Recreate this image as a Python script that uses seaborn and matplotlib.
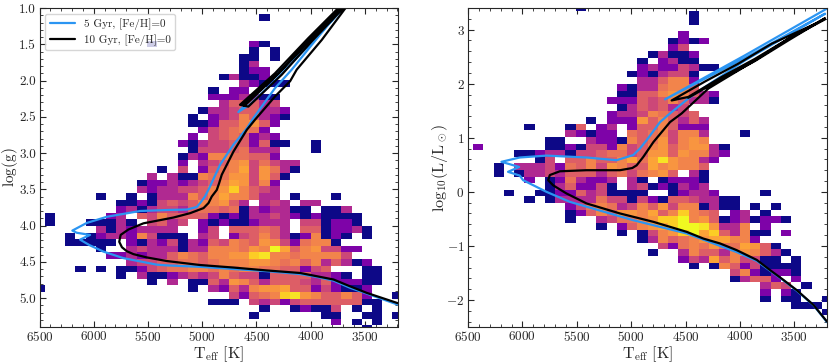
import numpy as np
import pandas as pd
import seaborn as sns
import matplotlib.pyplot as plt
from matplotlib.ticker import MultipleLocator

# star counts per bin, one entry per row of the histogram: (first column, counts)
# '.' is an empty bin, a/b/c are 12/14/16
logg_rows = [
    (0, ""), (22, "1"), (0, ""), (0, ""), (0, ""),
    (11, "1.........21"), (21, "1.1"), (20, "11.1"), (20, "13"), (20, "122"),
    (18, "13112"), (20, "32111"), (17, "1.22"), (17, "2223311"), (18, "355534"),
    (16, "133455332"), (15, "1.23475321"), (15, "112557852"), (16, "2456762"), (15, "2.4565232"),
    (14, "21344552511..1"), (15, "144456333...1"), (14, "1327766552"), (14, "2.3457846433"),
    (12, "1.4.2567948631"), (11, "3.311766884851"), (10, "12232345798472"), (10, "323344578a7543"),
    (6, "1..1.1333757977533.1...1"), (8, "1121454577853.343.33"), (8, "2313443566561323311.113"),
    (1, "1.....23.5475555212133432121111"), (1, "1...11131.4534.212112333.441221"),
    (6, "31323333..24.555653.5512231"), (3, "1.1233274111.34.245753127121.1"),
    (3, "11111.213241325476587426771"), (6, "1..34333133777687c95784422"),
    (7, "22323357657788ab77677774"), (9, "344556656777887675735312"),
    (4, "1.1.112456677676776655245...11"), (8, "1.311234347544155553321.11"),
    (11, "1.3.1153875355543522211"), (0, "1..............1.3253788955242112"),
    (19, "42567ab8755752..1"), (17, "111.4342455555511"), (22, "1..12114.1.1"),
    (21, "1......11..11.1"), (29, "2.1.1"), (32, "1"),
]
logl_rows = [
    (11, "1"), (22, "1"), (22, "1"), (0, ""), (21, "2"),
    (20, "1212"), (20, "24"), (18, "13112"), (17, "1.2311"), (17, "23224311"),
    (16, "1213441"), (17, "335772"), (15, "21336775"), (15, "1155787532"), (14, "22254575331"),
    (15, "1354534"), (14, "233476545"), (12, "1.2228575353"), (6, "1...15.23.25575222"),
    (10, "32122.65674773...1"), (8, "11..322175684787"), (1, "2......112144274578578831"),
    (5, "112331445664588587732"), (7, "14.557557969b87732"), (3, "1.3334265748755978775"),
    (3, "1.1334355535646785.31"), (6, "2.1263223.31.12221"), (8, "1352241.34121323"),
    (4, "1..11225341111..12332....1"), (6, "1.1333364414215543311"), (10, "24676347584771311.1.1"),
    (10, "12575887957a765.23.1"), (10, "1..346678aac7851231221"), (13, "1.25789accb8337.2"),
    (15, "1.1478ac9a53711.2"), (17, "137567899772"), (19, "426768669851"),
    (18, "1..37553787531"), (21, "2439574411.1"), (22, "1.175241111"), (26, "4721221"),
    (26, "13552.2"), (29, "354.1"), (29, "2.21"), (29, "1.11..1"), (32, "111"), (35, "1"),
]
COUNT = {"a": 12, "b": 14, "c": 16}
MAX_COUNT = 16

# isochrones: 5 Gyr and 10 Gyr, [Fe/H]=0
iso5_logg_teff = [3200, 3482, 3636, 3790, 3943, 4097, 4405, 4712, 5020, 5327, 5419, 5727, 5911, 6040, 6126, 6034,
                  6157, 6197, 6065, 5880, 5573, 5300, 5142, 5050, 5019, 4975, 4942, 4835, 4712, 4589, 4529, 4329,
                  4175, 3991, 3714, 3660, 3991, 4421, 4667, 4560, 4329, 4020, 3720, 3660]
iso5_logg = [5.09, 4.94, 4.86, 4.76, 4.71, 4.67, 4.63, 4.60, 4.57, 4.55, 4.54, 4.45, 4.36, 4.27, 4.195, 4.13,
             4.10, 4.07, 3.965, 3.88, 3.80, 3.785, 3.78, 3.745, 3.69, 3.60, 3.505, 3.16, 2.885, 2.66, 2.52, 2.105,
             1.85, 1.51, 1.0, 0.93, 1.47, 2.04, 2.435, 2.33, 2.0, 1.52, 1.04, 0.93]
iso10_logg_teff = [3200, 3482, 3636, 3790, 3943, 4097, 4405, 4712, 5020, 5327, 5512, 5634, 5695, 5740, 5765, 5752,
                   5680, 5542, 5420, 5265, 5112, 4988, 4942, 4912, 4866, 4845, 4820, 4712, 4589, 4513, 4329, 4190,
                   4129, 3898, 3684, 3630, 3745, 4022, 4329, 4652, 4575, 4267, 3991, 3714, 3640, 3730, 4005, 4300,
                   4612, 4620, 4298, 4006, 3730]
iso10_logg = [5.07, 4.93, 4.84, 4.745, 4.70, 4.655, 4.62, 4.58, 4.545, 4.49, 4.44, 4.395, 4.355, 4.30, 4.225, 4.13,
              4.055, 3.97, 3.935, 3.89, 3.83, 3.76, 3.69, 3.60, 3.51, 3.42, 3.30, 2.98, 2.68, 2.54, 2.22, 2.01,
              1.85, 1.44, 1.01, 0.92, 1.0, 1.415, 1.90, 2.335, 2.36, 1.92, 1.46, 1.025, 0.93, 1.01, 1.44, 1.91,
              2.35, 2.33, 1.90, 1.43, 1.01]
iso5_logl_teff = [3200, 3323, 3477, 3600, 3722, 3845, 4029, 4490, 4981, 5564, 5779, 5993, 6024, 6132, 6030,
                  6132, 6193, 6024, 5779, 5410, 5134, 4981, 4920, 4858, 4735, 4643, 4475, 4291, 3954, 3218,
                  3954, 4689, 3954, 3200]
iso5_logl = [-2.41, -2.10, -1.83, -1.64, -1.46, -1.28, -1.115, -0.77, -0.525, -0.185, 0.0, 0.215, 0.30, 0.37, 0.46,
             0.52, 0.555, 0.635, 0.67, 0.635, 0.585, 0.68, 0.80, 0.955, 1.29, 1.45, 1.725, 1.98, 2.43, 3.295,
             2.475, 1.71, 2.525, 3.39]
iso10_logl_teff = [3200, 3323, 3477, 3600, 3722, 3845, 4029, 4183, 4336, 4490, 4796, 5103, 5410, 5595, 5717,
                   5763, 5748, 5656, 5410, 5103, 4990, 4950, 4889, 4796, 4643, 4536, 4291, 4168, 3862, 3556, 3218,
                   3708, 4016, 4322, 4628, 4475, 4168, 3862, 3556, 3218, 3556, 3862, 4168, 4475]
iso10_logl = [-2.40, -2.095, -1.82, -1.63, -1.45, -1.26, -1.08, -0.955, -0.865, -0.74, -0.555, -0.40, -0.215, -0.03, 0.12,
              0.215, 0.31, 0.38, 0.40, 0.40, 0.44, 0.49, 0.645, 0.92, 1.29, 1.45, 1.91, 2.06, 2.43, 2.83, 3.19,
              2.74, 2.37, 2.04, 1.69, 1.755, 2.125, 2.46, 2.83, 3.21, 2.80, 2.42, 2.09, 1.74]

# histogram bins, rows run from the top of the panel down
T_START, T_STEP, N_T = 6547.0, 94.3, 36
G_START, G_STEP = 0.9963, 0.09122
L_START, L_STEP = 3.461, -0.1223
BLUE = "#2b95f2"

sns.set_style("ticks")
plt.rcParams["font.family"] = "cmr10"
plt.rcParams["axes.formatter.use_mathtext"] = True
plt.rcParams["mathtext.fontset"] = "cm"
plt.rcParams["axes.unicode_minus"] = False


def hist_table(rows, y_start, y_step):
    out = []
    for r, (first, counts) in enumerate(rows):
        for i, c in enumerate(counts):
            if c == ".":
                continue
            n = COUNT.get(c) or int(c)
            out.append({
                "teff": T_START - T_STEP * (first + i + 0.5),
                "y": y_start + y_step * (r + 0.5),
                # log colour scale, kept just above zero so single stars still show
                "w": 1e-4 + np.log(n) / np.log(MAX_COUNT),
            })
    return pd.DataFrame(out)


def draw_panel(ax, rows, y_start, y_step, teff5, y5, teff10, y10):
    df = hist_table(rows, y_start, y_step)
    x_edges = np.sort(T_START - T_STEP * np.arange(N_T + 1))
    y_edges = np.sort(y_start + y_step * np.arange(len(rows) + 1))
    sns.histplot(data=df, x="teff", y="y", weights="w", bins=(x_edges, y_edges),
                 cmap="plasma", vmin=0, vmax=1, ax=ax)
    sns.lineplot(x=teff5, y=y5, sort=False, estimator=None, color=BLUE, lw=1.6,
                 label="5 Gyr, [Fe/H]=0", ax=ax)
    sns.lineplot(x=teff10, y=y10, sort=False, estimator=None, color="black", lw=1.6,
                 label="10 Gyr, [Fe/H]=0", ax=ax)
    ax.set_xlim(6500, 3200)
    ax.xaxis.set_major_locator(MultipleLocator(500))
    ax.xaxis.set_minor_locator(MultipleLocator(100))
    ax.tick_params(which="major", direction="in", top=True, right=True, length=4, width=0.8, labelsize=9.5, pad=2.5)
    ax.tick_params(which="minor", direction="in", top=True, right=True, length=2, width=0.6)
    ax.set_xlabel(r"$\mathrm{T_{eff}\ [K]}$", fontsize=11.5)
    ax.xaxis.set_label_coords(0.5, -0.053)
    for s in ax.spines.values():
        s.set_linewidth(0.8)
        s.set_visible(True)


fig = plt.figure(figsize=(8.31, 3.63), dpi=100)
ax1 = fig.add_axes([39.5 / 831, 1 - 327 / 363, 358 / 831, 319 / 363])
ax2 = fig.add_axes([468 / 831, 1 - 327 / 363, 359 / 831, 319 / 363])

draw_panel(ax1, logg_rows, G_START, G_STEP, iso5_logg_teff, iso5_logg, iso10_logg_teff, iso10_logg)
ax1.set_ylim(5.4, 1.0)
ax1.yaxis.set_major_locator(MultipleLocator(0.5))
ax1.yaxis.set_minor_locator(MultipleLocator(0.1))
ax1.yaxis.set_major_formatter(lambda v, p: f"{v:.1f}")
ax1.set_ylabel(r"$\mathrm{log(g)}$", fontsize=11)
ax1.yaxis.set_label_coords(-0.054, 0.5)
ax1.legend(loc="upper left", fontsize=8, frameon=True, framealpha=0.8, fancybox=True,
           borderaxespad=0.5, handlelength=2.3, handletextpad=0.8, labelspacing=0.4)

draw_panel(ax2, logl_rows, L_START, L_STEP, iso5_logl_teff, iso5_logl, iso10_logl_teff, iso10_logl)
ax2.set_ylim(-2.5, 3.4)
ax2.yaxis.set_minor_locator(MultipleLocator(0.2))
ax2.set_yticks([-2, -1, 0, 1, 2, 3], [r"$-2$", r"$-1$", r"$0$", r"$1$", r"$2$", r"$3$"])
ax2.set_ylabel(r"$\mathrm{log_{10}(L/L_\odot)}$", fontsize=11.5)
ax2.yaxis.set_label_coords(-0.05, 0.5)
ax2.get_legend().remove()

fig.savefig("out.png", dpi=100)
